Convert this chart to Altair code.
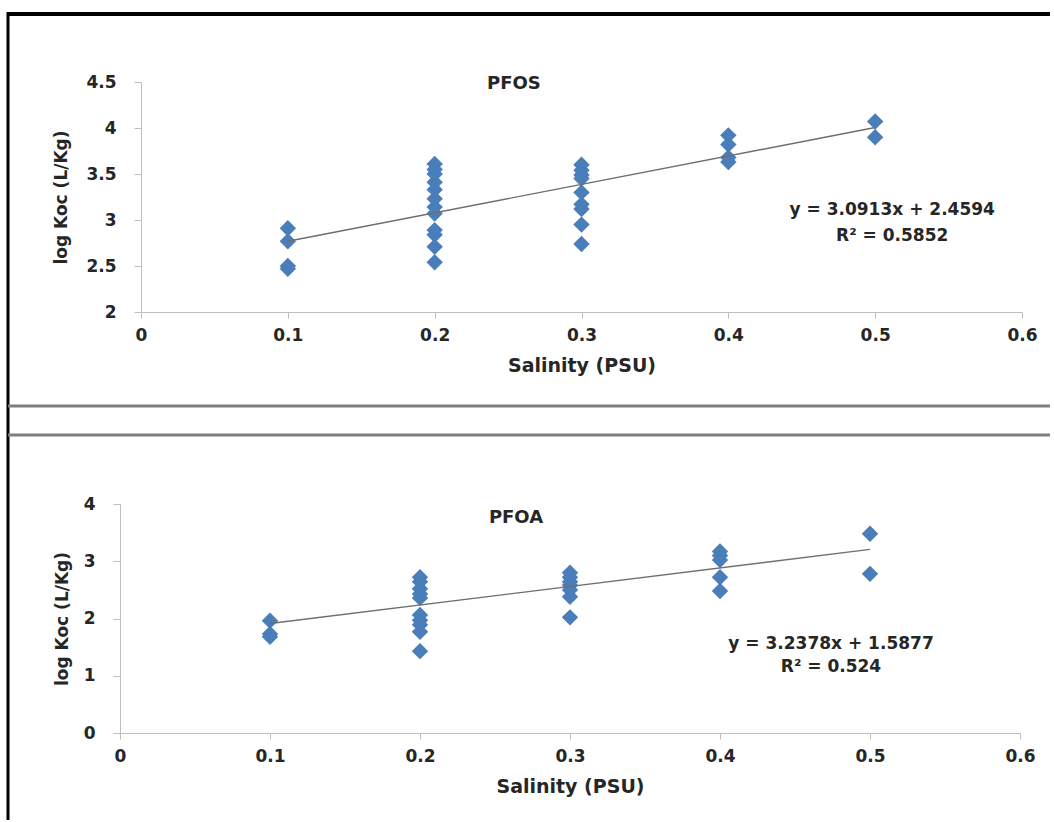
import altair as alt
import pandas as pd

# ---- PFOS: log Koc versus salinity ----
pfos_salinity = [0.1, 0.1, 0.1, 0.1,
                 0.2, 0.2, 0.2, 0.2, 0.2, 0.2, 0.2, 0.2, 0.2, 0.2, 0.2, 0.2,
                 0.3, 0.3, 0.3, 0.3, 0.3, 0.3, 0.3, 0.3, 0.3,
                 0.4, 0.4, 0.4, 0.4,
                 0.5, 0.5]
pfos_logkoc = [2.91, 2.77, 2.50, 2.47,
               3.61, 3.55, 3.50, 3.41, 3.33, 3.23, 3.14, 3.07, 2.89, 2.84, 2.71, 2.54,
               3.60, 3.54, 3.49, 3.45, 3.30, 3.17, 3.12, 2.95, 2.74,
               3.92, 3.82, 3.68, 3.63,
               4.07, 3.90]
pfos_slope, pfos_intercept, pfos_r2 = 3.0913, 2.4594, 0.5852

# ---- PFOA: log Koc versus salinity ----
pfoa_salinity = [0.1, 0.1, 0.1,
                 0.2, 0.2, 0.2, 0.2, 0.2, 0.2, 0.2, 0.2, 0.2, 0.2,
                 0.3, 0.3, 0.3, 0.3, 0.3, 0.3, 0.3,
                 0.4, 0.4, 0.4, 0.4, 0.4,
                 0.5, 0.5]
pfoa_logkoc = [1.96, 1.73, 1.68,
               2.72, 2.64, 2.52, 2.43, 2.36, 2.06, 1.97, 1.89, 1.77, 1.43,
               2.80, 2.72, 2.64, 2.58, 2.50, 2.38, 2.02,
               3.17, 3.10, 3.02, 2.72, 2.48,
               3.48, 2.78]
pfoa_slope, pfoa_intercept, pfoa_r2 = 3.2378, 1.5877, 0.524

x_ticks = [0, 0.1, 0.2, 0.3, 0.4, 0.5, 0.6]
pfos_y_ticks = [2, 2.5, 3, 3.5, 4, 4.5]
pfoa_y_ticks = [0, 1, 2, 3, 4]

FONT = "DejaVu Sans"
TEXT = "#262626"
AXIS_LINE = "#bfbfbf"
POINT = "#4A7EBB"


def panel(salinity, logkoc, slope, intercept, r2, name, name_pos, eq_pos,
          y_domain, y_ticks, x_range, height, y_axis_offset, y_title_pad):
    points = pd.DataFrame({"s": salinity, "k": logkoc})
    lo, hi = min(salinity), max(salinity)
    fit = pd.DataFrame({"s": [lo, hi],
                        "k": [slope * lo + intercept, slope * hi + intercept]})
    eq = pd.DataFrame({
        "s": [eq_pos[0], eq_pos[0]],
        "k": [eq_pos[1], eq_pos[2]],
        "t": [f"y = {slope}x + {intercept}", f"R\u00b2 = {r2}"],
    })
    head = pd.DataFrame({"s": [name_pos[0]], "k": [name_pos[1]], "t": [name]})

    x_enc = alt.X("s:Q",
                  scale=alt.Scale(domain=[0, 0.6], range=x_range, nice=False, zero=False),
                  axis=alt.Axis(values=x_ticks, format="~g", title="Salinity (PSU)", grid=False,
                                domainColor=AXIS_LINE, tickColor=AXIS_LINE, tickSize=6,
                                labelFlush=False, labelOverlap=False,
                                labelFont=FONT, labelFontSize=17, labelFontWeight="bold",
                                labelColor=TEXT, labelPadding=9,
                                titleFont=FONT, titleFontSize=19, titleFontWeight="bold",
                                titleColor=TEXT, titlePadding=13))
    y_enc = alt.Y("k:Q",
                  scale=alt.Scale(domain=y_domain, nice=False, zero=False),
                  axis=alt.Axis(values=y_ticks, format="~g", title="log Koc (L/Kg)", grid=False,
                                offset=y_axis_offset,
                                domainColor=AXIS_LINE, tickColor=AXIS_LINE, tickSize=7,
                                labelOverlap=False,
                                labelFont=FONT, labelFontSize=17, labelFontWeight="bold",
                                labelColor=TEXT, labelPadding=18,
                                titleFont=FONT, titleFontSize=17, titleFontWeight="bold",
                                titleColor=TEXT, titlePadding=y_title_pad))

    scatter = alt.Chart(points).mark_point(
        shape="diamond", filled=True, size=270, color=POINT, opacity=1
    ).encode(x=x_enc, y=y_enc)

    trend = alt.Chart(fit).mark_line(color="#6e6e6e", strokeWidth=1.4).encode(
        x="s:Q", y="k:Q")

    eq_text = alt.Chart(eq).mark_text(
        font=FONT, fontSize=17, fontWeight="bold", color=TEXT,
        align="center", baseline="middle"
    ).encode(x="s:Q", y="k:Q", text="t:N")

    head_text = alt.Chart(head).mark_text(
        font=FONT, fontSize=18, fontWeight="bold", color=TEXT,
        align="center", baseline="middle"
    ).encode(x="s:Q", y="k:Q", text="t:N")

    return alt.layer(scatter, trend, eq_text, head_text).properties(width=902, height=height)


top = panel(pfos_salinity, pfos_logkoc, pfos_slope, pfos_intercept, pfos_r2,
            "PFOS", (0.254, 4.478), (0.5116, 3.109, 2.826),
            [2, 4.5], pfos_y_ticks, [21, 902], 230, -21, 15)

bottom = panel(pfoa_salinity, pfoa_logkoc, pfoa_slope, pfoa_intercept, pfoa_r2,
               "PFOA", (0.264, 3.755), (0.474, 1.555, 1.153),
               [0, 4], pfoa_y_ticks, [0, 900], 229, 0, 12)

# Frame lines around the two panels
one = pd.DataFrame({"a": [0]})
frame = [
    alt.Chart(one).mark_rule(color="#000000", strokeWidth=4).encode(
        x=alt.value(-112), x2=alt.value(930), y=alt.value(-68)),
    alt.Chart(one).mark_rule(color="#000000", strokeWidth=3).encode(
        x=alt.value(-112), y=alt.value(-70), y2=alt.value(738)),
    alt.Chart(one).mark_rule(color="#7f7f7f", strokeWidth=3).encode(
        x=alt.value(-112), x2=alt.value(930), y=alt.value(324)),
    alt.Chart(one).mark_rule(color="#7f7f7f", strokeWidth=3).encode(
        x=alt.value(-112), x2=alt.value(930), y=alt.value(353)),
]
top = alt.layer(top, *frame)

chart = alt.vconcat(top, bottom, spacing=192, bounds="flush").resolve_scale(
    x="independent", y="independent"
).properties(
    padding={"left": 6, "top": 10, "right": 0, "bottom": 0},
    background="white",
).configure_view(stroke=None)

chart.save("out.html", embed_options={"renderer": "svg", "actions": False})
